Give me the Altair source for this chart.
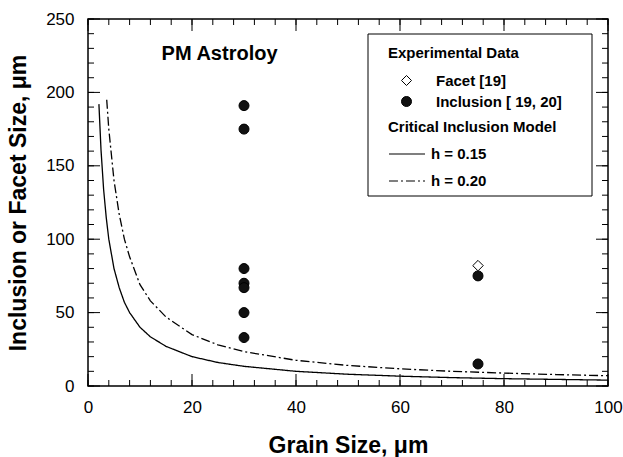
import altair as alt
import pandas as pd

FONT = "Liberation Sans"

# ---- data ----
solid_x = [2.1, 2.5, 3, 3.5, 4, 5, 6, 7, 8, 10, 12, 15, 20, 25, 30, 40, 50, 60, 70, 80, 90, 100]
solid_y = [192, 161, 134, 115, 100, 80, 67, 57, 50, 40, 33.5, 27, 20, 16, 13.4, 10, 8, 6.7, 5.7, 5, 4.5, 4]
dash_x = [3.6, 4, 5, 6, 7, 8, 10, 12, 15, 20, 25, 30, 40, 50, 60, 70, 80, 90, 100]
dash_y = [195, 175, 140, 117, 100, 88, 69, 58, 47, 35, 28, 23.4, 17.5, 14, 11.7, 10, 8.8, 7.8, 7]
inc_x = [30, 30, 30, 30, 30, 30, 30, 75, 75]
inc_y = [191, 175, 80, 70, 67, 50, 33, 75, 15]
facet_x = [75]
facet_y = [82]

series_names = ["Facet  [19]", "Inclusion [ 19, 20]"]
model_names = ["h = 0.15", "h = 0.20"]
x_major = [0, 20, 40, 60, 80, 100]
x_minor = list(range(0, 101, 4))
y_major = [0, 50, 100, 150, 200, 250]
y_minor = list(range(0, 251, 10))

lines = pd.DataFrame({
    "x": solid_x + dash_x,
    "y": solid_y + dash_y,
    "model": [model_names[0]] * len(solid_x) + [model_names[1]] * len(dash_x),
})
inc = pd.DataFrame({"x": inc_x, "y": inc_y, "series": series_names[1]})
fac = pd.DataFrame({"x": facet_x, "y": facet_y, "series": series_names[0]})

W, H = 520, 367
XT = "Grain Size, μm"
YT = "Inclusion or Facet Size, μm"
xscale = alt.Scale(domain=[0, 100], nice=False, zero=False)
yscale = alt.Scale(domain=[0, 250], nice=False, zero=False)
xaxis = alt.Axis(values=x_major, ticks=False, domain=False, grid=False,
                 labelFlush=False, labelPadding=13, titlePadding=19, titleFontSize=23)
yaxis = alt.Axis(values=y_major, ticks=False, domain=False, grid=False,
                 labelFlush=False, labelPadding=14, titlePadding=15, titleFontSize=23)

shape_scale = alt.Scale(domain=series_names, range=["diamond", "circle"])
fill_scale = alt.Scale(domain=series_names, range=["white", "#111111"])
stroke_scale = alt.Scale(domain=series_names, range=["black", "black"])
sym_legend = alt.Legend(
    title="Experimental Data", orient="none", legendX=300, legendY=27,
    padding=0, titleFont=FONT, titleFontSize=15, titleFontWeight="bold",
    titleColor="black", titlePadding=12, labelFont=FONT, labelFontSize=15,
    labelFontWeight="bold", labelColor="black", symbolOffset=11,
    labelOffset=22, rowPadding=5, symbolSize=100, symbolStrokeWidth=1,
)
dash_legend = alt.Legend(
    title="Critical Inclusion Model", orient="none", legendX=300, legendY=101,
    padding=0, titleFont=FONT, titleFontSize=15, titleFontWeight="bold",
    titleColor="black", titlePadding=0, labelFont=FONT, labelFontSize=15,
    labelFontWeight="bold", labelColor="black", symbolType="stroke",
    symbolSize=1300, symbolStrokeColor="black", symbolStrokeWidth=1.2,
    labelOffset=5, rowPadding=0, symbolOffset=0,
)

# only this layer carries the visible axes (labels + titles)
curves = alt.Chart(lines).mark_line(color="black", strokeWidth=1.3).encode(
    x=alt.X("x:Q", scale=xscale, title=XT, axis=xaxis),
    y=alt.Y("y:Q", scale=yscale, title=YT, axis=yaxis),
    strokeDash=alt.StrokeDash("model:N", scale=alt.Scale(domain=model_names, range=[[1, 0], [9, 3, 2, 3]]),
                              legend=dash_legend),
    order="x:Q",
)


def points(df, size):
    return alt.Chart(df).mark_point(filled=True, size=size, strokeWidth=1, opacity=1).encode(
        x=alt.X("x:Q", scale=xscale, axis=None),
        y=alt.Y("y:Q", scale=yscale, axis=None),
        shape=alt.Shape("series:N", scale=shape_scale, legend=sym_legend),
        fill=alt.Fill("series:N", scale=fill_scale, legend=sym_legend),
        stroke=alt.Stroke("series:N", scale=stroke_scale, legend=sym_legend),
    )


inc_pts = points(inc, 100)
fac_pts = points(fac, 110)


# inward tick marks on all four sides, placed through (identical) scales
def xticks(values, yc, length):
    return alt.Chart(pd.DataFrame({"v": values})).mark_tick(
        color="black", orient="vertical", thickness=1, size=length, opacity=1
    ).encode(x=alt.X("v:Q", scale=xscale, axis=None), y=alt.value(yc))


def yticks(values, xc, length):
    return alt.Chart(pd.DataFrame({"v": values})).mark_tick(
        color="black", orient="horizontal", thickness=1, size=length, opacity=1
    ).encode(y=alt.Y("v:Q", scale=yscale, axis=None), x=alt.value(xc))


tick_layers = [
    xticks(x_major, H - 6, 12), xticks(x_minor, H - 3, 6),
    xticks(x_major, 6, 12), xticks(x_minor, 3, 6),
    yticks(y_major, 6, 12), yticks(y_minor, 3, 6),
    yticks(y_major, W - 6, 12), yticks(y_minor, W - 3, 6),
]

label = alt.Chart(pd.DataFrame({"t": ["PM Astroloy"]})).mark_text(
    font=FONT, fontSize=20, fontWeight="bold", color="black"
).encode(
    x=alt.X(datum=25.3, scale=xscale, axis=None),
    y=alt.Y(datum=226, scale=yscale, axis=None),
    text="t:N",
)

frame = alt.Chart(pd.DataFrame({"k": [0]})).mark_rect(
    fill="white", fillOpacity=0, stroke="black", strokeWidth=1
).encode(
    x=alt.value(280), x2=alt.value(504), y=alt.value(15), y2=alt.value(177)
)

chart = alt.layer(curves, inc_pts, fac_pts, label, frame, *tick_layers).resolve_scale(
    x="independent", y="independent"
).properties(
    width=W, height=H, autosize="none",
    padding={"left": 88, "top": 19, "right": 15, "bottom": 71},
    background="white",
).configure_axis(
    labelFont=FONT, labelFontSize=17, labelColor="black",
    titleFont=FONT, titleFontWeight="bold", titleColor="black",
).configure_view(stroke="black", strokeWidth=1.5)

chart.save("out.html", embed_options={"renderer": "svg", "actions": False})
